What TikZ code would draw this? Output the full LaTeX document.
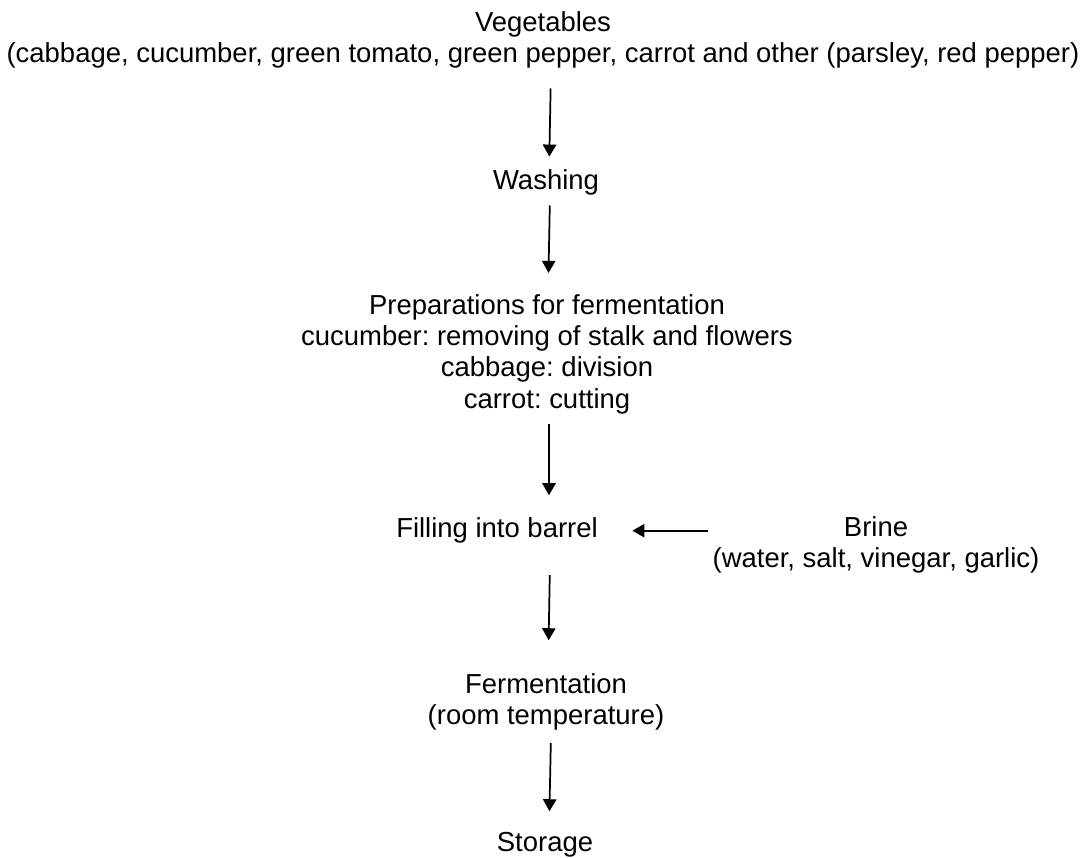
\documentclass[tikz,border=0pt]{standalone}
\usepackage{fontspec}
\setmainfont{Liberation Sans}
\usetikzlibrary{arrows.meta}
\frenchspacing

\begin{document}
\begin{tikzpicture}[
        x=0.75pt, y=-0.75pt,
        font=\fontsize{20.6}{23.5}\selectfont,
        step box/.style={align=center, inner sep=0pt, outer sep=0pt},
        flow/.style={-{Triangle[length=9pt, width=10pt]}, line width=1.3pt}
    ]
        \useasboundingbox (0,0) rectangle (1087,857);

        % --- Pasos del proceso ---
        \node[step box] (veg) at (543,40) {Vegetables\\(cabbage, cucumber, green tomato, green pepper, carrot and other (parsley, red pepper)};
        \node[step box] (wash) at (546,182.7) {Washing};
        \node[step box] (prep) at (547,354) {Preparations for fermentation\\cucumber: removing of stalk and flowers\\cabbage: division\\carrot: cutting};
        \node[step box] (fill) at (497,530.7) {Filling into barrel};
        \node[step box] (brine) at (876,545) {Brine\\(water, salt, vinegar, garlic)};
        \node[step box] (ferm) at (546,702) {Fermentation\\(room temperature)};
        \node[step box] (store) at (545,845) {Storage};

        % --- Flechas ---
        \draw[flow, shorten <=15pt, shorten >=10pt] ([xshift=6pt]veg.south) -- ([xshift=2.3pt]wash.north);
        \draw[flow, shorten <=7.5pt, shorten >=16pt] ([xshift=3pt]wash.south) -- ([xshift=0.8pt]prep.north);
        \draw[flow, shorten <=8pt, shorten >=17pt] ([xshift=1.5pt]prep.south) -- ([xshift=39pt]fill.north);
        \draw[flow, shorten <=3.75pt, shorten >=26pt] (brine.west |- fill.east) -- (fill.east);
        \draw[flow, shorten <=23.7pt, shorten >=25pt] ([xshift=40pt]fill.south) -- ([xshift=1.5pt]ferm.north);
        \draw[flow, shorten <=9.5pt, shorten >=16pt] ([xshift=3.8pt]ferm.south) -- ([xshift=3pt]store.north);
    \end{tikzpicture}
\end{document}
